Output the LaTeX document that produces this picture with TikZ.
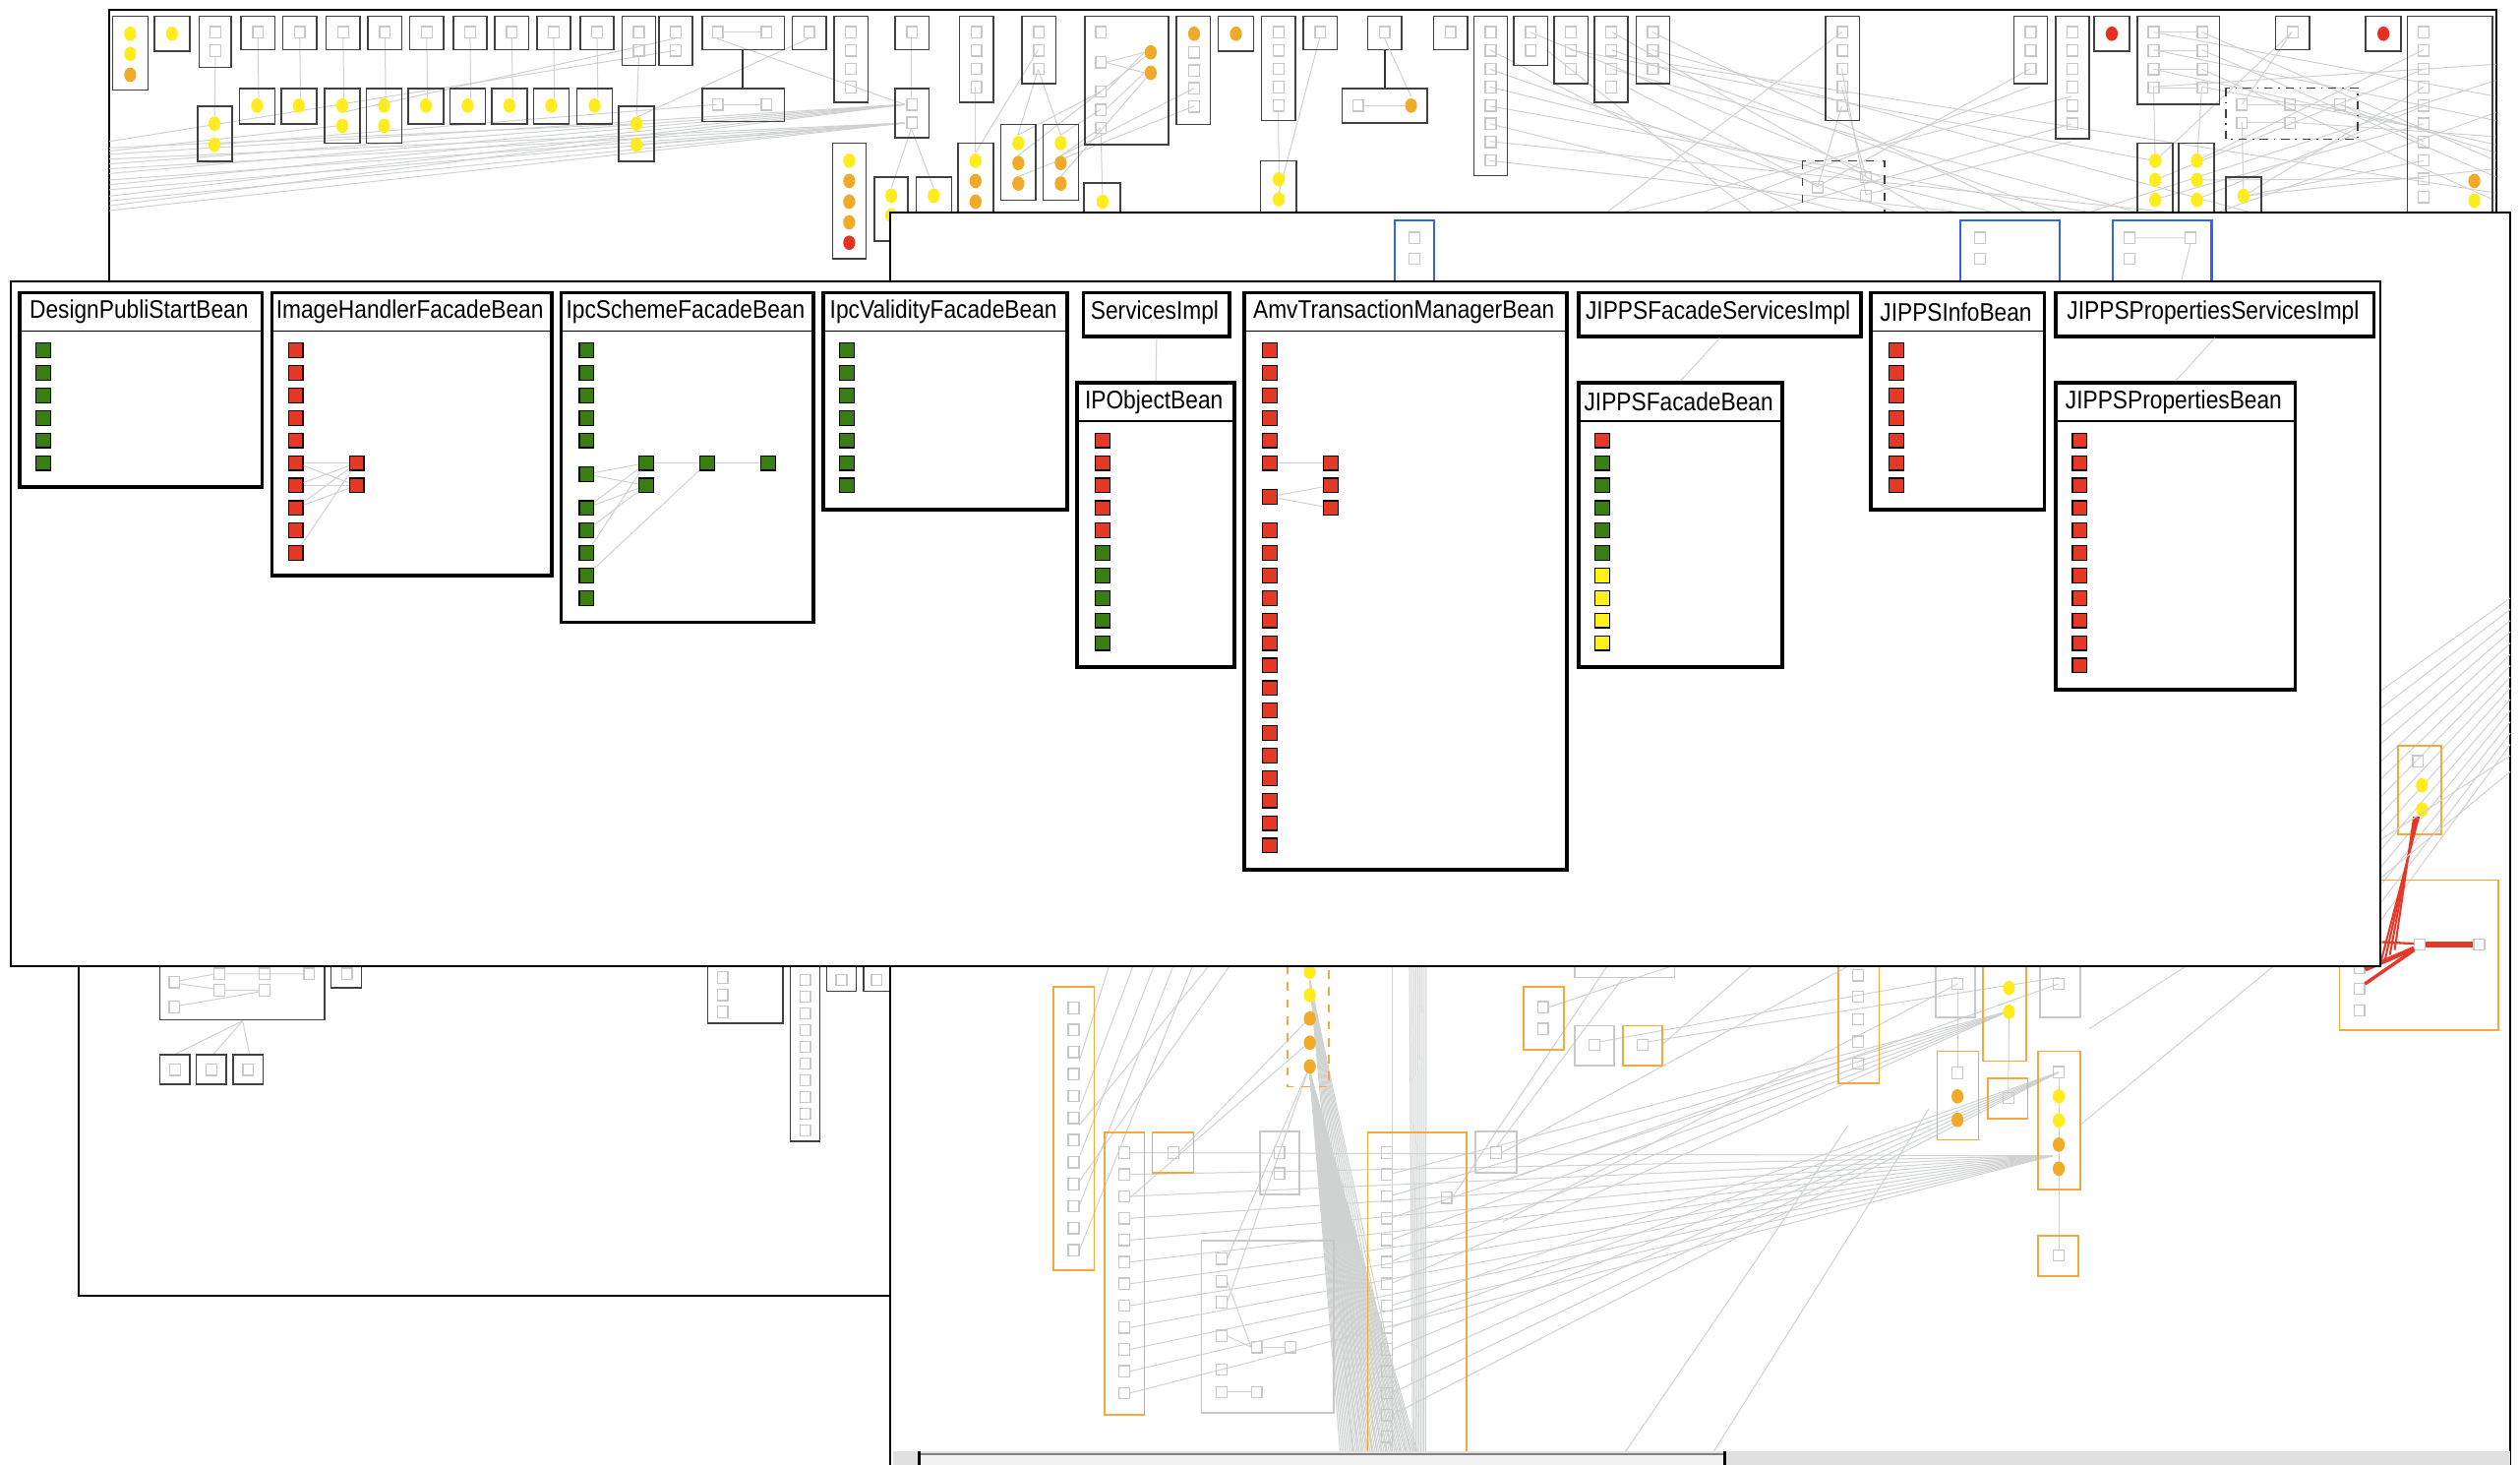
\documentclass[tikz,border=0pt]{standalone}
\usepackage{fontspec}
\newfontfamily\beanfont[FakeStretch=0.88]{Liberation Sans}
\usetikzlibrary{positioning}

\definecolor{beanGreen}{RGB}{58,125,18}
\definecolor{beanRed}{RGB}{229,57,40}
\definecolor{beanYellow}{RGB}{255,240,30}
\definecolor{dotYellow}{RGB}{255,236,30}
\definecolor{dotOrange}{RGB}{241,170,40}
\definecolor{dotRed}{RGB}{230,48,36}
\definecolor{edgeGray}{RGB}{208,210,210}
\definecolor{sqGray}{RGB}{200,200,200}
\definecolor{boxOrange}{RGB}{245,168,60}
\definecolor{winBlue}{RGB}{48,100,240}

\tikzset{
  win/.style={draw=black, line width=0.7pt, fill=white},
  bgbox/.style={draw=black!75, line width=0.55pt},
  obox/.style={draw=boxOrange, line width=0.6pt},
  gbox/.style={draw=sqGray, line width=0.6pt},
  bbox/.style={draw=winBlue, line width=0.8pt},
  gsq/.style={draw=sqGray, line width=0.45pt},
  edge/.style={draw=edgeGray, line width=0.35pt},
  hotedge/.style={draw=beanRed, line width=#1},
  beanframe/.style={draw=black, line width=1.3pt, fill=white, inner sep=0pt, anchor=north west},
  beanlabel/.style={font=\beanfont\fontsize{9}{10}\selectfont, inner sep=0pt},
  greenmember/.style={draw=black, line width=0.45pt, minimum size=0.18cm, inner sep=0pt, fill=beanGreen},
  redmember/.style={greenmember, fill=beanRed},
  yellowmember/.style={greenmember, fill=beanYellow},
}

% bean class box: name, x, y, width, height, title (screen pixels)
\newcommand{\bean}[6]{%
  \node[beanframe, minimum width=#4*0.02cm, minimum height=#5*0.02cm] (#1) at (#2,#3) {};
  \draw[line width=0.45pt] (#2,#3+25) -- (#2+#4,#3+25);
  \node[beanlabel] (#1-title) at (#2+#4/2,#3+13) {#6};}
% header-only bean: name, x, y, width, title
\newcommand{\headbean}[5]{%
  \node[beanframe, minimum width=#4*0.02cm, minimum height=27*0.02cm] (#1) at (#2,#3) {};
  \node[beanlabel] (#1-title) at (#2+#4/2,#3+13.5) {#5};}
\newcommand{\bgsq}[2]{\draw[gsq] (#1,#2) +(-3.3,-3.5) rectangle +(3.3,3.5);}
\newcommand{\ydot}[2]{\fill[dotYellow] (#1,#2) ellipse [x radius=0.075cm, y radius=0.09cm];}
\newcommand{\orgdot}[2]{\fill[dotOrange] (#1,#2) ellipse [x radius=0.075cm, y radius=0.09cm];}
\newcommand{\rdot}[2]{\fill[dotRed] (#1,#2) ellipse [x radius=0.075cm, y radius=0.09cm];}

\begin{document}
\begin{tikzpicture}[x=0.02cm, y=-0.02cm]
  \useasboundingbox (0,0) rectangle (1568,911);
  \clip (0,0) rectangle (1568,911);
  \fill[white] (0,0) rectangle (1568,911);

  % ---------- back window, top
  \draw[win] (68,6) rectangle (1553,560);
  \foreach \y/\t in {96/65,99/76.5,102/65,105/76.5,108/65,112/76.5,115/65,118/76.5,122/65,125/76.5,128/65,131/76.5}
    \draw[edge] (68,\y) -- (563,\t);
  \foreach \a/\b/\p/\q in {68/92/396/77, 68/88/420/31.5, 68/94/213/78, 133/90/446/65, 396/90/563/76.5,
      420/24/213/70, 503/24/396/73, 446/24/563/65, 134/35/133.5/72, 397.5/35/396/72, 567/24/567/61,
      567/80/554.6/117, 567/80/581/117, 607/54/607/95, 646/31/607/95, 646/43/633.3/84, 646/43/660/84,
      688/38.8/712/32.6, 688/38.8/712/45.3, 688/57/712/32.6, 688/68/712/45.3, 685/57/633.3/84,
      685/68/660/84, 685/79.6/660/97, 716/45.3/660/110, 716/32.6/633.3/97, 743/55/660/97,
      743/66/633.3/110, 685/83/686/121, 795.5/70/795.7/107, 821/24/795.7/120}
    \draw[edge] (\a,\b) -- (\p,\q);
  \foreach \a/\b/\p/\q in {927/31/1120/132, 927/43/1180/132, 927/54/1240/132, 927/66/1300/132,
      927/77/1150/132, 927/88/1350/132, 927/100/1220/132, 1003/20/1200/132, 1003/31/1280/132,
      1003/43/1330/132, 1028/20/1260/132, 1028/31/1400/132, 1039/40/1553/120, 952/20/1170/110,
      977/31/1340/100, 1146/66/1131/116, 1146/54/1161/110, 1146/43/1161/121, 1263/43/1131/116,
      1263/54/1060/132, 1289/60/1010/132, 1289/77/1100/132, 1340/20/1553/60, 1340/31/1553/75,
      1340/43/1553/90, 1370/20/1553/100, 1370/31/1553/110, 1370/43/1553/125, 1370/54/1508/80,
      1426/20/1395/65, 1426/20/1341/100, 1508/31/1367/100, 1508/43/1341/112, 1508/54/1396/122,
      1508/66/1367/124, 1508/77/1341/124, 1508/88/1456/65, 1508/100/1396/122, 1508/111/1367/112,
      1340/54/1341/100, 1370/54/1367/100, 1395/76/1396/122, 1553/40/1340/54, 1553/50/1300/132,
      1553/70/1380/132, 1553/85/1425/76, 1553/95/1456/65, 1553/105/1396/122, 1289/88/1161/121,
      1014/55/1131/116, 962/31/1090/132, 1146/20/1000/132}
    \draw[edge] (\a,\b) -- (\p,\q);
  % first row of boxes
  \draw[bgbox] (70,10) rectangle (92,56);
  \ydot{81}{21} \ydot{81}{33.5} \orgdot{81}{46.5}
  \draw[bgbox] (96,10) rectangle (118,32);
  \ydot{107}{21}
  \draw[bgbox] (124,10) rectangle (144,42);
  \bgsq{134}{20} \bgsq{134}{31.5}
  \foreach \x in {150,176,203,229,255,282,308,334,361} {
    \draw[edge] (\x+10.5,24) -- (\x+11,61);
    \draw[bgbox] (\x,10) rectangle ++(21,21);
    \bgsq{\x+10.5}{20}
  }
  \foreach \x/\y/\n in {387/10/2, 410/10/2, 519/10/4, 597/10/4, 636/10/3, 785/10/5, 917/10/8,
      942/10/2, 967/10/3, 992/10/4, 1018/10/3, 1136/10/5, 1253/10/3, 1279/10/6, 557/55/2} {
    \draw[bgbox] (\x,\y) rectangle ++(21,{11.4*\n+8});
    \foreach \k in {1,...,\n} {\bgsq{\x+10.5}{\y+11.4*\k-1.4}}
  }
  \foreach \x in {493,557,811,851,892,1416} {
    \draw[bgbox] (\x,10) rectangle ++(21,21);
    \bgsq{\x+10.5}{20}
  }
  \foreach \x in {758,1303,1472} \draw[bgbox] (\x,10) rectangle ++(22,22);
  \orgdot{769}{21} \rdot{1314}{21} \rdot{1483}{21}
  \draw[bgbox] (437,10) rectangle (488,31);
  \bgsq{446.5}{20} \bgsq{477}{20}
  \draw[edge] (450,20) -- (473.5,20);
  \draw[black!80, line width=0.8pt] (462,31) -- (462,55);
  \draw[bgbox] (437,55) rectangle (488,75.5);
  \bgsq{446.5}{65} \bgsq{477}{65}
  \draw[edge] (450,65) -- (473.5,65);
  \draw[bgbox] (675,10) rectangle (727,90);
  \foreach \y in {20,38.8,57,68.3,79.6} {\bgsq{685}{\y}}
  \orgdot{716}{32.6} \orgdot{716}{45.3}
  \draw[bgbox] (732,10) rectangle (753,77.5);
  \orgdot{743}{21}
  \foreach \y in {32.6,43.9,55,66.3} {\bgsq{743}{\y}}
  \draw[black!80, line width=0.8pt] (861.5,31) -- (861.5,55);
  \draw[edge] (861.5,24) -- (878,60) (848.5,65.7) -- (874,65.7);
  \draw[bgbox] (835,55) rectangle (888,76.5);
  \bgsq{845}{65.7} \orgdot{878}{65.7}
  \draw[bgbox] (1330,10) rectangle (1381,65);
  \foreach \y in {20,31.5,43,54.5} {
    \bgsq{1340}{\y} \bgsq{1370.5}{\y}
    \draw[edge] (1343.5,\y) -- (1367,\y);
  }
  \draw[bgbox] (1498,10) rectangle (1551,150);
  \foreach \k in {0,...,9} {\bgsq{1508}{20+11.4*\k}}
  \orgdot{1539.6}{112.6} \ydot{1539.6}{124.8}
  \draw[bgbox, dash dot] (1385,54.7) rectangle (1467,86.7);
  \bgsq{1395}{65} \bgsq{1425}{65} \bgsq{1456}{65} \bgsq{1395}{76.5} \bgsq{1425}{76.5}
  \draw[edge] (1398.5,65) -- (1452.5,65) (1398.5,76.5) -- (1421.5,76.5);
  \draw[bgbox, dashed] (1121.6,100) rectangle (1172.6,145);
  \bgsq{1131}{116.4} \bgsq{1161}{110.2} \bgsq{1161}{121.8}
  % second row of boxes
  \draw[bgbox] (123,66) rectangle (144.5,100.5);
  \ydot{133.5}{77} \ydot{133.5}{90}
  \foreach \x/\h in {149/22,175/22,202/34,228/34,254/22,280/22,306/22,332/22,359/22} {
    \draw[bgbox] (\x,55) rectangle ++(22,\h);
    \ydot{\x+11}{65.7}
  }
  \ydot{213}{78.3} \ydot{239}{78.3}
  \draw[bgbox] (385,66) rectangle (407,100.5);
  \ydot{396}{77} \ydot{396}{90}
  \draw[bgbox] (518,89) rectangle (539,161);
  \ydot{528.4}{100} \orgdot{528.4}{112.6} \orgdot{528.4}{125.5}
  \orgdot{528.4}{138.3} \rdot{528.4}{151}
  \draw[bgbox] (544,110) rectangle (565,150);
  \ydot{554.6}{121.8} \ydot{554.6}{134}
  \draw[bgbox] (570,110) rectangle (592,150);
  \ydot{581}{121.8}
  \draw[bgbox] (596,89) rectangle (618,150);
  \ydot{607}{100} \orgdot{607}{112.6} \orgdot{607}{125.5}
  \foreach \x in {622.6,649} {
    \draw[bgbox] (\x,77.5) rectangle ++(22,47);
    \ydot{\x+11}{89} \orgdot{\x+11}{101.4} \orgdot{\x+11}{114.2}
  }
  \draw[bgbox] (674.5,114) rectangle (697,150);
  \ydot{686}{125.5}
  \draw[bgbox] (784.4,100) rectangle (806.5,150);
  \ydot{795.7}{111.6} \ydot{795.7}{124}
  \draw[bgbox] (1330,89) rectangle (1352,150);
  \draw[bgbox] (1355.6,89) rectangle (1377.5,150);
  \foreach \y in {100,112,124.4} {\ydot{1341}{\y} \ydot{1367}{\y}}
  \draw[bgbox] (1385,110) rectangle (1407,150);
  \ydot{1396}{121.8}

  % ---------- back window, left
  \draw[win] (49,540) rectangle (555,806);
  \draw[edge] (112,610) -- (133,606) (112,612) -- (133,615) (140,605.8) -- (189,605.8)
    (140,616) -- (161,616) (112,625.5) -- (161,617) (151,635) -- (108.5,656)
    (151,635) -- (132.7,656) (151,635) -- (155.3,656);
  \draw[bgbox] (99.5,540) rectangle (202,634.4);
  \foreach \x/\y in {108.5/611, 136.6/605.8, 164.7/605.8, 192.4/605.8, 136.6/616, 164.7/616, 108.5/626.4}
    {\bgsq{\x}{\y}}
  \draw[bgbox] (206,540) rectangle (225,614.6);
  \bgsq{215.8}{605.8}
  \foreach \x in {99.5,122.2,145.2} {
    \draw[bgbox] (\x,656) rectangle ++(18.6,18.6);
    \bgsq{\x+9.3}{665.4}
  }
  \draw[bgbox] (440.3,540) rectangle (487.1,636.4);
  \foreach \y in {608,619,629.5} {\bgsq{449.6}{\y}}
  \draw[bgbox] (491.8,540) rectangle (510.1,710);
  \foreach \k in {0,...,9} {\bgsq{501}{609.6+10.4*\k}}
  \draw[bgbox] (514.4,540) rectangle (532.8,616.6);
  \draw[bgbox] (537.5,540) rectangle (553.5,616.6);
  \bgsq{523.6}{609.6} \bgsq{545.5}{609.6}

  % ---------- back window, right
  \draw[win] (554,132) rectangle (1562,960);
  \draw[bbox] (867.7,137) rectangle (892.5,200);
  \bgsq{880}{148} \bgsq{880}{161}
  \draw[bbox] (1219.8,137) rectangle (1281.6,200);
  \bgsq{1232}{148} \bgsq{1232}{161}
  \draw[bbox] (1314.4,137) rectangle (1376.2,200);
  \bgsq{1325}{148} \bgsq{1325}{161} \bgsq{1363}{148}
  \draw[edge] (1328.5,148) -- (1359.5,148) (1363,151.5) -- (1357,176);
  \foreach \k in {0,...,13} \draw[edge] (1562,{372+7*\k}) -- (1481,{430+11*\k});
  \draw[obox] (1492,464) rectangle (1519,519);
  \bgsq{1504.6}{473.6} \ydot{1507}{488.5} \ydot{1507}{503.6}
  \draw[obox] (1455.6,547.5) rectangle (1554.5,640.6);
  \foreach \y in {602,615,628.6} {\bgsq{1468}{\y}}
  \bgsq{1505.7}{587.5} \bgsq{1542.6}{587.5}
  \foreach \d in {0,3,6,9} \draw[hotedge=0.7pt] ({1505-\d/3},508) -- ({1481+\d},{600-\d});
  \draw[hotedge=2pt] (1509.5,587.5) -- (1538.8,587.5);
  \draw[hotedge=1.6pt] (1471.5,603) -- (1502,590);
  \draw[hotedge=1.2pt] (1471.5,612) -- (1502,591);
  \draw[hotedge=0.8pt] (1482,586) -- (1502,587);
  % connectors under the front window
  \foreach \k in {0,...,44} \draw[edge] (815,667) -- ({834+1.1*\k},905);
  \foreach \k in {0,...,12} \draw[edge] (815,610) -- ({842+3*\k},905);
  \foreach \k in {0,...,8} \draw[edge] ({877+\k*1.3},601) -- ({879+\k},905);
  \draw[edge] (866,601) -- (866,905);
  \foreach \k in {0,...,11} \draw[edge] (703,{717+13.6*\k}) -- (1277,719);
  \foreach \k in {0,...,5} \draw[edge] (1250,629) -- (866.5,{730+13.6*\k});
  \foreach \k in {0,...,5} \draw[edge] (1281,667) -- (866.5,{812+13.6*\k});
  \foreach \a/\b in {690/660,705/690,718/720,730/750,742/778,752/700,765/735}
    \draw[edge] (\a,601) -- (671.5,\b);
  \foreach \a/\b/\p/\q in {815/648/703/745, 815/663/763.5/783, 815/663/763.5/810, 815/633/733.5/717,
      763.5/797/778.5/838, 763.5/831/778.5/838, 785.5/838/799.5/838, 763.5/866/778.5/866,
      1040/601/963.5/626.6, 1150/601/934.5/717, 1000/601/903.5/745, 1010/608/931/713.5,
      1218/608/995.5/648, 1281/608/1025.5/648, 1150/700/1010/905, 1200/690/1065/905,
      1218/615.5/1218/663.9, 1250/633/1249.6/679.5, 1281/670.5/1281/777.5, 1218/612/935/760,
      1281/612/935/735, 1562/470/1300/640, 1562/480/1294/700, 1090/601/1034/650}
    \draw[edge] (\a,\b) -- (\p,\q);
  % boxes under the front window
  \draw[obox] (655.6,614) rectangle (680.8,790);
  \foreach \k in {0,...,11} {\bgsq{668}{627+13.7*\k}}
  \draw[obox] (687.5,704.4) rectangle (712,880);
  \foreach \k in {0,...,11} {\bgsq{699.5}{717+13.6*\k}}
  \draw[obox] (717,704.4) rectangle (742.6,729.6);
  \bgsq{730}{717}
  \draw[gbox] (784,704) rectangle (808.5,743);
  \bgsq{796}{717} \bgsq{796}{730}
  \draw[obox, dashed] (801,590) rectangle (827,676);
  \ydot{815}{604.5} \ydot{815}{619} \orgdot{815}{633.6}
  \orgdot{815}{648.6} \orgdot{815}{663.4}
  \draw[obox] (851,704.4) rectangle (912.6,930);
  \foreach \k in {0,...,14} {\bgsq{863}{717+13.6*\k}}
  \draw[gbox] (918,704) rectangle (943.6,729.6);
  \bgsq{931}{717} \bgsq{900}{745}
  \draw[gbox] (747.6,771.6) rectangle (830,879);
  \foreach \x/\y in {760/783, 760/797, 760/810, 760/831, 760/852, 760/866, 782/838, 782/866, 803/838}
    {\bgsq{\x}{\y}}
  \draw[obox] (948,614) rectangle (973,653);
  \bgsq{960}{626.6} \bgsq{960}{640}
  \draw[gbox] (980,638) rectangle (1004.5,662.6);
  \bgsq{992}{650}
  \draw[obox] (1010,638) rectangle (1034.5,662.6);
  \bgsq{1022}{650}
  \draw[gbox] (980,590) rectangle (1042,608);
  \draw[obox] (1143.7,590) rectangle (1169.3,674);
  \foreach \y in {606.6,620,634,648,661.6} {\bgsq{1156}{\y}}
  \draw[gbox] (1204.4,590) rectangle (1228.8,633);
  \bgsq{1218}{612}
  \draw[obox] (1234,590) rectangle (1260.6,660);
  \ydot{1250}{614.6} \ydot{1250}{629.4}
  \draw[gbox] (1269.5,590) rectangle (1294.6,633);
  \bgsq{1281}{612}
  \draw[obox] (1205.3,654) rectangle (1231,709);
  \bgsq{1218}{667.4} \orgdot{1218}{682} \orgdot{1218}{696.6}
  \draw[obox] (1236.7,670.6) rectangle (1261.6,695.7);
  \bgsq{1249.6}{683}
  \draw[obox] (1268,654) rectangle (1294.6,740);
  \bgsq{1281}{667} \ydot{1281}{682} \ydot{1281}{697}
  \orgdot{1281}{712} \orgdot{1281}{727}
  \draw[obox] (1268,768.8) rectangle (1293,794);
  \bgsq{1281}{781}
  % scroll bar
  \fill[black!12] (556,903) rectangle (1562,911);
  \draw[black!50, line width=0.5pt, fill=black!5] (572,904.5) rectangle (1073,912);
  \draw[black, line width=0.9pt] (572,903) -- (572,911) (1073,903) -- (1073,911);

  % ---------- front window: bean classes
  \draw[win] (7,175) rectangle (1481,601);

  \bean{dps}{11}{181}{151}{121}{DesignPubliStartBean}
  \foreach \i in {1,...,6} \node[greenmember] (dps\i) at (27,{204+14*\i}) {};

  \bean{ihf}{168}{181}{174}{176}{ImageHandlerFacadeBean}
  \foreach \i in {1,...,10} \node[redmember] (ihf\i) at (184,{204+14*\i}) {};
  \node[redmember] (ihfa) at (222,288) {};
  \node[redmember] (ihfb) at (222,302) {};
  \foreach \s/\t in {6/a,6/b,7/a,7/b,8/a,8/b,10/a} \draw[edge] (ihf\s) -- (ihf\t);

  \bean{isf}{348}{181}{157}{205}{IpcSchemeFacadeBean}
  \foreach \y [count=\i] in {218,232,246,260,274,295,316,330,344,358,372}
    \node[greenmember] (isf\i) at (365,\y) {};
  \node[greenmember] (isfa) at (402,288) {};
  \node[greenmember] (isfb) at (402,302) {};
  \node[greenmember] (isfc) at (440,288) {};
  \node[greenmember] (isfd) at (478,288) {};
  \foreach \s/\t in {6/a,6/b,7/a,7/b,8/b,9/a,10/c} \draw[edge] (isf\s) -- (isf\t);
  \draw[edge] (isfa) -- (isfc) -- (isfd);

  \bean{ivf}{511}{181}{152}{135}{IpcValidityFacadeBean}
  \foreach \i in {1,...,7} \node[greenmember] (ivf\i) at (527,{204+14*\i}) {};

  \headbean{srv}{673}{181}{91}{ServicesImpl}
  \bean{ipo}{669}{237}{98}{177}{IPObjectBean}
  \foreach \i in {1,...,5} \node[redmember] (ipo\i) at (686,{260+14*\i}) {};
  \foreach \i in {6,...,10} \node[greenmember] (ipo\i) at (686,{260+14*\i}) {};
  \draw[edge] (srv.south) -- (ipo.north);

  \bean{amv}{773}{181}{201}{359}{AmvTransactionManagerBean}
  \foreach \y [count=\i] in {218,232,246,260,274,288,309}
    \node[redmember] (amv\i) at (790,\y) {};
  \foreach \k in {0,...,14} \node[redmember] (amvl\k) at (790,{330+14*\k}) {};
  \node[redmember] (amva) at (828,288) {};
  \node[redmember] (amvb) at (828,302) {};
  \node[redmember] (amvc) at (828,316) {};
  \draw[edge] (amv6) -- (amva);
  \draw[edge] (amv7) -- (amvb);
  \draw[edge] (amv7) -- (amvc);

  \headbean{jfs}{981}{181}{176}{JIPPSFacadeServicesImpl}
  \bean{jfb}{981}{237}{127}{177}{JIPPSFacadeBean}
  \node[redmember] (jfb1) at (997,274) {};
  \foreach \i in {2,...,6} \node[greenmember] (jfb\i) at (997,{260+14*\i}) {};
  \foreach \i in {7,...,10} \node[yellowmember] (jfb\i) at (997,{260+14*\i}) {};
  \draw[edge] (jfs.south) -- (jfb.north);

  \bean{jib}{1163}{181}{108}{135}{JIPPSInfoBean}
  \foreach \i in {1,...,7} \node[redmember] (jib\i) at (1180,{204+14*\i}) {};

  \headbean{jps}{1278}{181}{198}{JIPPSPropertiesServicesImpl}
  \bean{jpb}{1278}{237}{149}{191}{JIPPSPropertiesBean}
  \foreach \i in {1,...,11} \node[redmember] (jpb\i) at (1294,{260+14*\i}) {};
  \draw[edge] (jps.south) -- (jpb.north);
\end{tikzpicture}
\end{document}
